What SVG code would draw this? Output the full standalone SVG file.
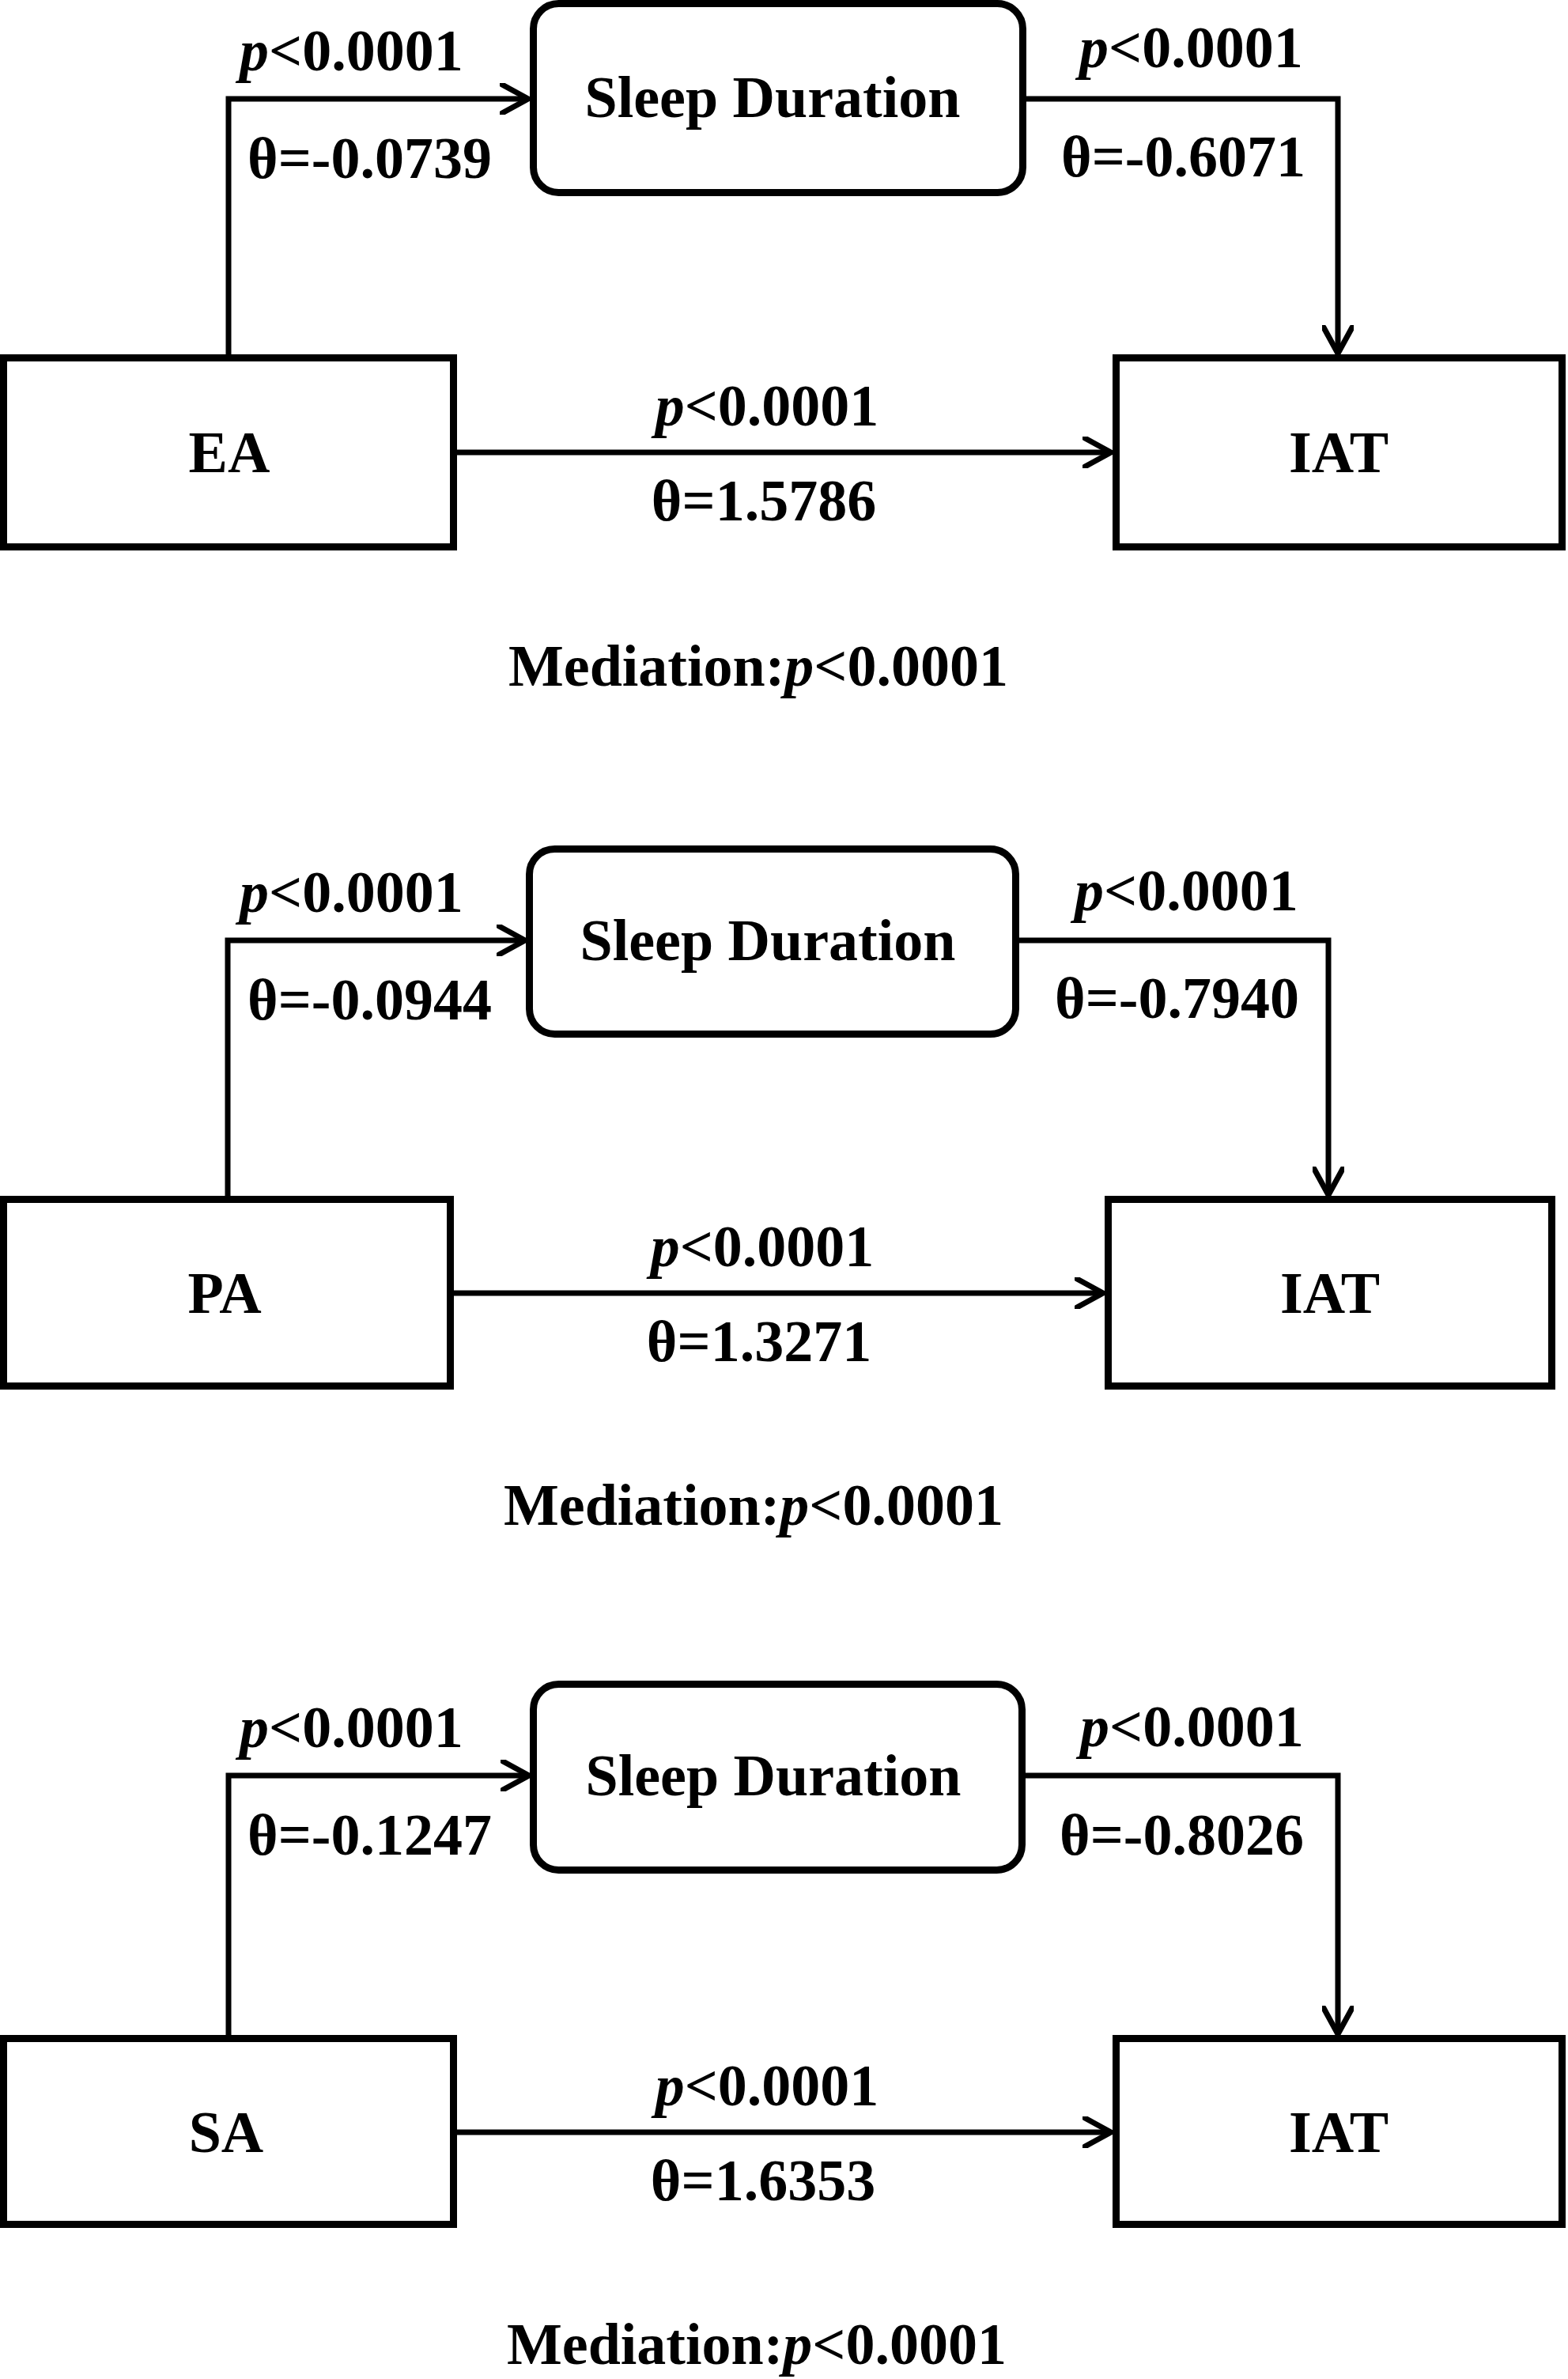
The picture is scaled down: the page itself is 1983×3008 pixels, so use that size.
<svg xmlns="http://www.w3.org/2000/svg" width="1983" height="3008" viewBox="0 0 1983 3008">
<defs>
<style>
.box{fill:#fff;stroke:#000;stroke-width:9}
.con{fill:none;stroke:#000;stroke-width:7;stroke-linejoin:miter}
text{font-family:"Liberation Serif","Times New Roman",serif;font-weight:bold;font-size:74px;fill:#000}
.c{text-anchor:middle}
.i{font-style:italic}
</style>
<marker id="arr" markerUnits="userSpaceOnUse" viewBox="0 0 40 40" markerWidth="40" markerHeight="40" refX="36" refY="20" orient="auto">
<path d="M3,2 L36,20 L3,38" fill="none" stroke="#000" stroke-width="7" stroke-linecap="round" stroke-linejoin="miter"/>
</marker>
</defs>
<rect width="1983" height="3008" fill="#fff"/>

<g id="connectors">
<path class="con" d="M289,448 V125 H668" marker-end="url(#arr)"/>
<path class="con" d="M1298,125 H1692 V447" marker-end="url(#arr)"/>
<path class="con" d="M578,572 H1405" marker-end="url(#arr)"/>

<path class="con" d="M288,1512 V1189 H664" marker-end="url(#arr)"/>
<path class="con" d="M1289,1189 H1680 V1511" marker-end="url(#arr)"/>
<path class="con" d="M574,1635 H1395" marker-end="url(#arr)"/>

<path class="con" d="M289,2573 V2245 H669" marker-end="url(#arr)"/>
<path class="con" d="M1297,2245 H1692 V2572" marker-end="url(#arr)"/>
<path class="con" d="M578,2696 H1405" marker-end="url(#arr)"/>
</g>

<g id="labels">
<text x="303" y="89"><tspan class="i">p</tspan>&lt;0.0001</text>
<text x="313" y="225">θ=-0.0739</text>
<text x="1365" y="85"><tspan class="i">p</tspan>&lt;0.0001</text>
<text x="1342" y="223">θ=-0.6071</text>
<text class="c" x="970" y="538"><tspan class="i">p</tspan>&lt;0.0001</text>
<text class="c" x="966" y="658">θ=1.5786</text>
<text class="c" x="959" y="867">Mediation:<tspan class="i">p</tspan>&lt;0.0001</text>

<text x="303" y="1153"><tspan class="i">p</tspan>&lt;0.0001</text>
<text x="313" y="1289">θ=-0.0944</text>
<text x="1359" y="1151"><tspan class="i">p</tspan>&lt;0.0001</text>
<text x="1334" y="1287">θ=-0.7940</text>
<text class="c" x="964" y="1601"><tspan class="i">p</tspan>&lt;0.0001</text>
<text class="c" x="960" y="1721">θ=1.3271</text>
<text class="c" x="953" y="1928">Mediation:<tspan class="i">p</tspan>&lt;0.0001</text>

<text x="303" y="2209"><tspan class="i">p</tspan>&lt;0.0001</text>
<text x="313" y="2345">θ=-0.1247</text>
<text x="1366" y="2208"><tspan class="i">p</tspan>&lt;0.0001</text>
<text x="1340" y="2345">θ=-0.8026</text>
<text class="c" x="970" y="2662"><tspan class="i">p</tspan>&lt;0.0001</text>
<text class="c" x="965" y="2782">θ=1.6353</text>
<text class="c" x="957" y="2989">Mediation:<tspan class="i">p</tspan>&lt;0.0001</text>
</g>

<g id="sleep1"><rect class="box" x="674.5" y="4.5" width="619" height="239" rx="32"/><text class="c" x="977" y="148">Sleep Duration</text></g>
<g id="ea"><rect class="box" x="4.5" y="452.5" width="569" height="239"/><text class="c" x="290" y="597">EA</text></g>
<g id="iat1"><rect class="box" x="1411.5" y="452.5" width="564" height="239"/><text class="c" x="1693" y="597">IAT</text></g>

<g id="sleep2"><rect class="box" x="669.5" y="1073.5" width="615" height="234" rx="32"/><text class="c" x="971" y="1214">Sleep Duration</text></g>
<g id="pa"><rect class="box" x="4.5" y="1516.5" width="565" height="236"/><text class="c" x="284" y="1660">PA</text></g>
<g id="iat2"><rect class="box" x="1401.5" y="1516.5" width="561" height="236"/><text class="c" x="1682" y="1660">IAT</text></g>

<g id="sleep3"><rect class="box" x="674.5" y="2129.5" width="618" height="235" rx="32"/><text class="c" x="978" y="2270">Sleep Duration</text></g>
<g id="sa"><rect class="box" x="4.5" y="2577.5" width="569" height="235"/><text class="c" x="286" y="2721">SA</text></g>
<g id="iat3"><rect class="box" x="1411.5" y="2577.5" width="564" height="235"/><text class="c" x="1693" y="2721">IAT</text></g>
</svg>
